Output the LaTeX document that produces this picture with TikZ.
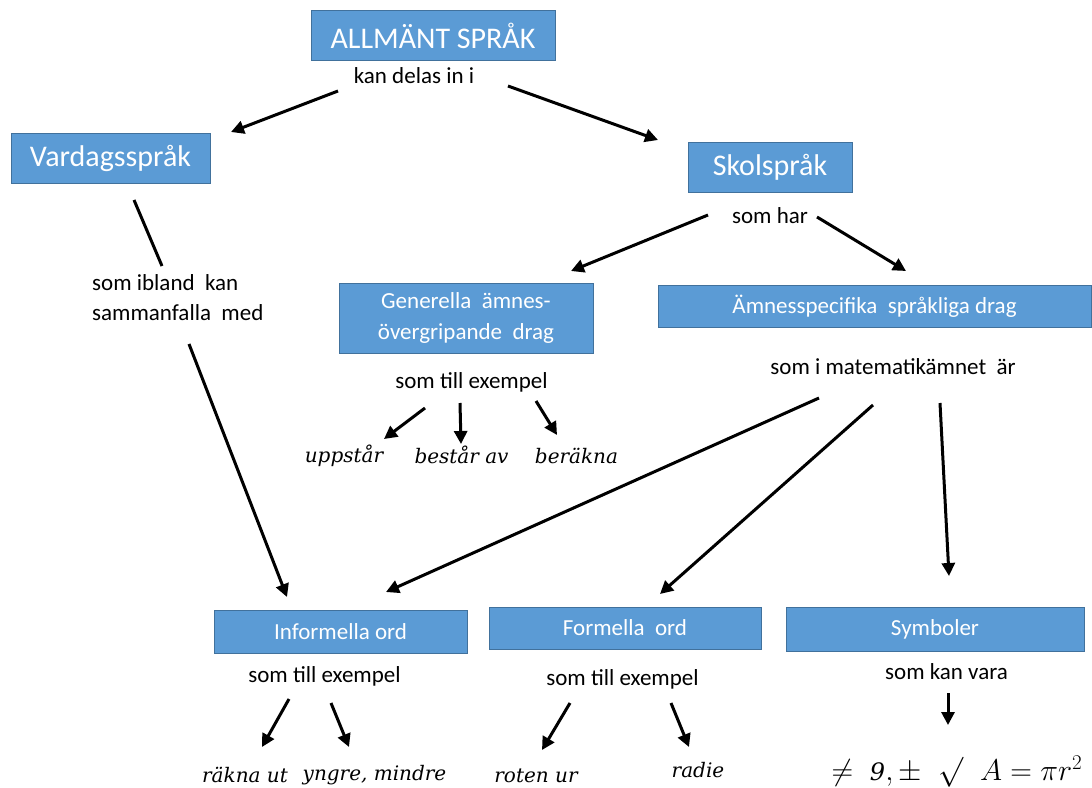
\documentclass[tikz,border=0pt]{standalone}
\usepackage{fix-cm}
\usepackage{fontspec}
\setmainfont{Carlito}
\newfontfamily\wordfont{DejaVu Serif}
\usetikzlibrary{arrows.meta,calc}

\definecolor{boxblue}{HTML}{5B9BD5}
\definecolor{boxline}{HTML}{41719C}

\tikzset{
  box/.style={draw=boxline, fill=boxblue, line width=1pt, text=white, inner sep=0pt,
    align=center, font=\fontsize{23}{31}\selectfont},
  bigbox/.style={box, font=\fontsize{30}{36}\selectfont},
  lbl/.style={anchor=base, inner sep=0pt, font=\fontsize{23}{30}\selectfont},
  word/.style={anchor=base, inner sep=0pt, font=\wordfont\itshape\fontsize{20}{24}\selectfont},
  arr/.style={line width=3pt, -{Triangle[length=13pt,width=13pt]}},
}

\begin{document}
\begin{tikzpicture}[x=1pt,y=-1pt]
        \useasboundingbox (0,0) rectangle (1092,787);
        % draw boxes
        \node[bigbox, minimum width=244pt, minimum height=50pt] (allm) at (433,35.5) {ALLMÄNT SPRÅK};
        \node[bigbox, minimum width=199pt, minimum height=50pt] (vard) at (110.5,158) {Vardagsspråk};
        \node[bigbox, minimum width=164pt, minimum height=50pt] (skol) at (770,167) {Skolspråk};
        \node[box, minimum width=254pt, minimum height=70pt] (gen) at (466,318) {Generella\ \ ämnes-\\övergripande\ \ drag};
        \node[box, minimum width=433pt, minimum height=42pt] (amne) at (874.5,306) {Ämnesspecifika\ \ språkliga drag};
        \node[box, minimum width=253pt, minimum height=43pt] (inf) at (340.5,631.5) {Informella ord};
        \node[box, minimum width=272pt, minimum height=42pt] (form) at (625,628) {Formella\ \ ord};
        \node[box, minimum width=298pt, minimum height=44pt] (sym) at (935,629) {Symboler};
        % draw labels
        \node[lbl] (kan) at (414,83) {kan delas in i};
        \node[lbl, anchor=west, align=left] (samman) at (92,298) {som ibland\ \ kan\\sammanfalla\ \ med};
        \node[lbl] (somhar) at (770,223) {som har};
        \node[lbl] (gex) at (471.5,388) {som till exempel};
        \node[lbl] (matte) at (893,374) {som i matematikämnet\ \ är};
        \node[lbl] (iex) at (324.5,682) {som till exempel};
        \node[lbl] (fex) at (622.5,685) {som till exempel};
        \node[lbl] (skv) at (946.5,679) {som kan vara};
        % draw examples
        \node[word] (uppstar) at (344,462) {uppstår};
        \node[word] (bestar) at (461.5,463) {består av};
        \node[word] (berakna) at (576.5,463) {beräkna};
        \node[word] (rakna) at (245,782) {räkna ut};
        \node[word] (yngre) at (374.5,780) {yngre, mindre};
        \node[word] (roten) at (536,782) {roten ur};
        \node[word] (radie) at (698,777) {radie};
        \node[anchor=base, inner sep=0pt, font=\fontsize{30}{36}\selectfont] (math) at (957,780)
          {$\neq\;\mbox{\wordfont\itshape\fontsize{24}{30}\selectfont 9},\pm\;\;\surd\;\;A = \pi r^{2}$};
        % draw arrows
        \draw[arr] ($(kan.base)+(-76,8)$) -- ($(vard)+(120.5,-26)$);
        \draw[arr] ($(kan.base)+(94,3)$) -- ($(skol)+(-112,-27)$);
        \draw[line width=3pt] ($(vard)+(23.5,42)$) -- ($(samman.west)+(70,-32)$);
        \draw[arr] ($(samman.west)+(97,46)$) -- ($(inf)+(-53.5,-34.5)$);
        \draw[arr] ($(somhar.base)+(-62,-8)$) -- ($(gen)+(105,-47)$);
        \draw[arr] ($(somhar.base)+(47,-6)$) -- ($(amne)+(31.5,-35)$);
        \draw[arr] ($(gex.base)+(-46.5,20)$) -- ($(uppstar.base)+(40,-23)$);
        \draw[arr] ($(gex.base)+(-11.5,15)$) -- ($(bestar.base)+(-0.5,-19)$);
        \draw[arr] ($(gex.base)+(64.5,13)$) -- ($(berakna.base)+(-19.5,-28)$);
        \draw[arr] ($(matte.base)+(-74,24)$) -- ($(inf)+(45.5,-39.5)$);
        \draw[arr] ($(matte.base)+(-20,31)$) -- ($(form)+(35,-34)$);
        \draw[arr] ($(matte.base)+(47,29)$) -- ($(sym)+(14,-53)$);
        \draw[arr] ($(iex.base)+(-35.5,17)$) -- ($(rakna.base)+(17,-35)$);
        \draw[arr] ($(iex.base)+(6.5,21)$) -- ($(yngre.base)+(-25.5,-33)$);
        \draw[arr] ($(fex.base)+(-52.5,18)$) -- ($(roten.base)+(6,-32)$);
        \draw[arr] ($(fex.base)+(48.5,18)$) -- ($(radie.base)+(-9,-30)$);
        \draw[arr] ($(skv.base)+(1.5,14)$) -- ($(math.base)+(-9,-55)$);
      \end{tikzpicture}
\end{document}
